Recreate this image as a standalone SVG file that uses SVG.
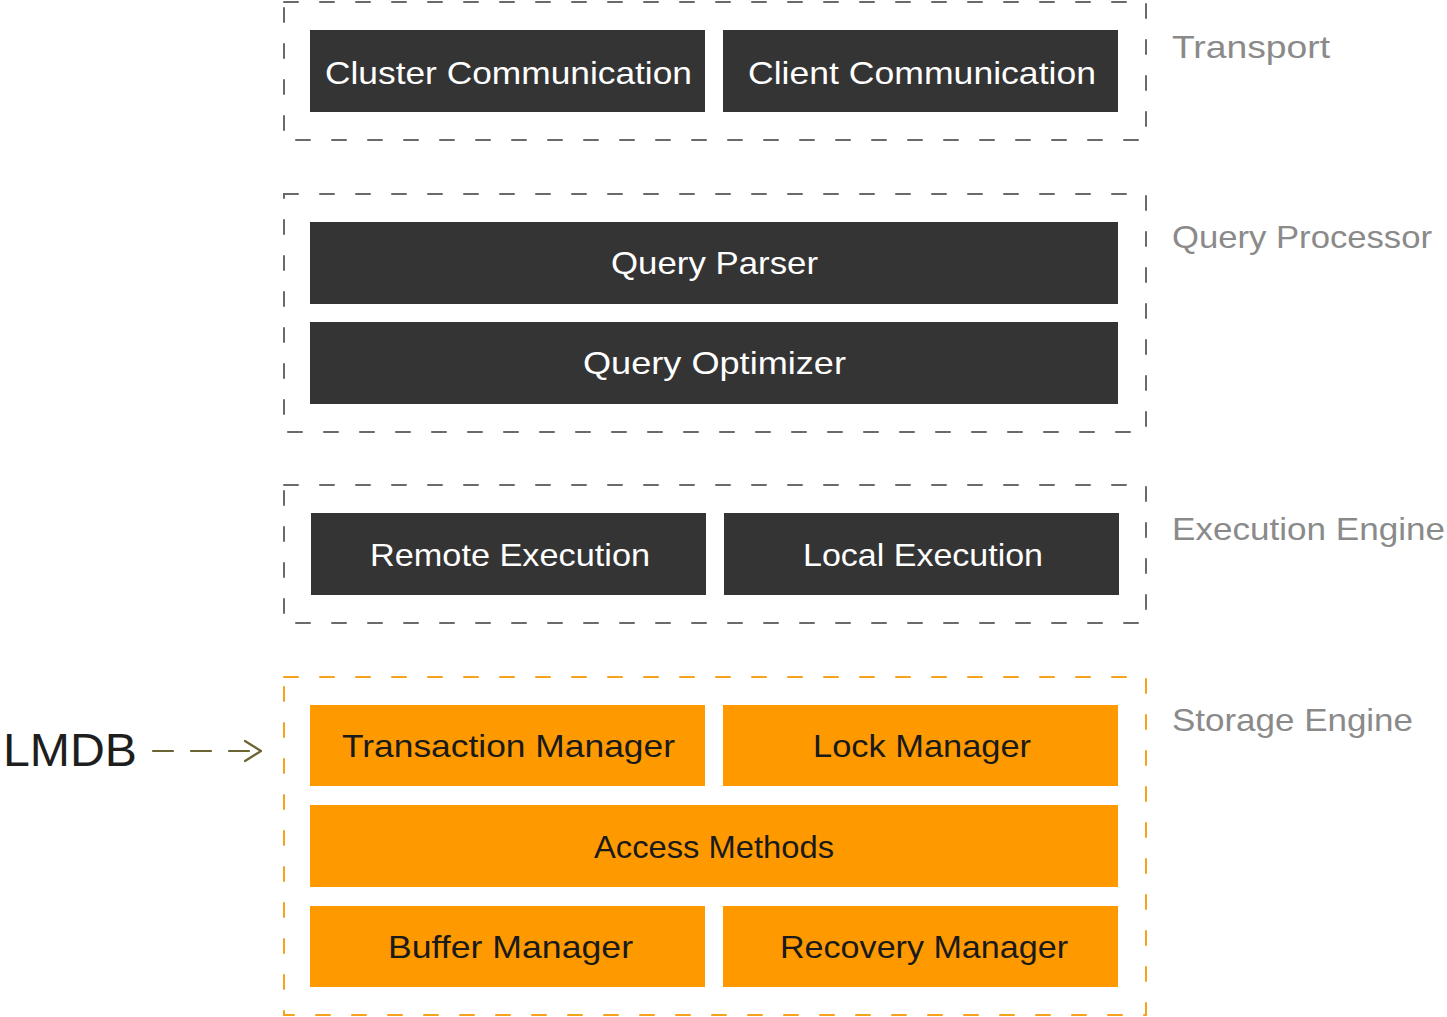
<svg xmlns="http://www.w3.org/2000/svg" width="1447" height="1017" viewBox="0 0 1447 1017">
<defs>
<style>
.grp{fill:none;stroke:#6a6a6a;stroke-width:2;stroke-dasharray:14 22;stroke-linecap:round}
.grp.o{stroke:#f7a21c}
.dk{fill:#343434}
.or{fill:#fe9900}
.t{font-family:"Liberation Sans","DejaVu Sans",sans-serif;font-size:32px;text-anchor:middle}
.tw{fill:#ffffff}
.tb{fill:#1a1a1a}
.lab{font-family:"Liberation Sans","DejaVu Sans",sans-serif;font-size:32px;fill:#8a8a8a}
</style>
<marker id="ah" viewBox="0 0 20 24" refX="18" refY="12" markerWidth="20" markerHeight="24" markerUnits="userSpaceOnUse" orient="auto">
<path d="M2 2 L18 12 L2 22" fill="none" stroke="#6b6433" stroke-width="2.2" stroke-linecap="round" stroke-linejoin="round"/>
</marker>
</defs>
<rect width="1447" height="1017" fill="#ffffff"/>

<g id="transport">
<rect class="grp" x="284" y="2" width="862" height="138"/>
<text class="lab" x="1172" y="58" textLength="158" lengthAdjust="spacingAndGlyphs">Transport</text>
</g>
<g id="cluster-communication">
<rect class="dk" x="310" y="30" width="395" height="82"/>
<text class="t tw" x="508.5" y="84" textLength="367" lengthAdjust="spacingAndGlyphs">Cluster Communication</text>
</g>
<g id="client-communication">
<rect class="dk" x="723" y="30" width="395" height="82"/>
<text class="t tw" x="922" y="84" textLength="348" lengthAdjust="spacingAndGlyphs">Client Communication</text>
</g>

<g id="query-processor">
<rect class="grp" x="284" y="194" width="862" height="238"/>
<text class="lab" x="1172" y="248" textLength="260" lengthAdjust="spacingAndGlyphs">Query Processor</text>
</g>
<g id="query-parser">
<rect class="dk" x="310" y="222" width="808" height="82"/>
<text class="t tw" x="714.5" y="274" textLength="207" lengthAdjust="spacingAndGlyphs">Query Parser</text>
</g>
<g id="query-optimizer">
<rect class="dk" x="310" y="322" width="808" height="82"/>
<text class="t tw" x="714.5" y="374" textLength="263" lengthAdjust="spacingAndGlyphs">Query Optimizer</text>
</g>

<g id="execution-engine">
<rect class="grp" x="284" y="485" width="862" height="138"/>
<text class="lab" x="1172" y="540" textLength="273" lengthAdjust="spacingAndGlyphs">Execution Engine</text>
</g>
<g id="remote-execution">
<rect class="dk" x="311" y="513" width="395" height="82"/>
<text class="t tw" x="510" y="566" textLength="280" lengthAdjust="spacingAndGlyphs">Remote Execution</text>
</g>
<g id="local-execution">
<rect class="dk" x="724" y="513" width="395" height="82"/>
<text class="t tw" x="923" y="566" textLength="240" lengthAdjust="spacingAndGlyphs">Local Execution</text>
</g>

<g id="storage-engine">
<rect class="grp o" x="284" y="677" width="862" height="338"/>
<text class="lab" x="1172" y="731" textLength="241" lengthAdjust="spacingAndGlyphs">Storage Engine</text>
</g>
<g id="transaction-manager">
<rect class="or" x="310" y="705" width="395" height="81"/>
<text class="t tb" x="508.5" y="757" textLength="333" lengthAdjust="spacingAndGlyphs">Transaction Manager</text>
</g>
<g id="lock-manager">
<rect class="or" x="723" y="705" width="395" height="81"/>
<text class="t tb" x="922" y="757" textLength="218" lengthAdjust="spacingAndGlyphs">Lock Manager</text>
</g>
<g id="access-methods">
<rect class="or" x="310" y="805" width="808" height="82"/>
<text class="t tb" x="714" y="858" textLength="240" lengthAdjust="spacingAndGlyphs">Access Methods</text>
</g>
<g id="buffer-manager">
<rect class="or" x="310" y="906" width="395" height="81"/>
<text class="t tb" x="510.5" y="958" textLength="245" lengthAdjust="spacingAndGlyphs">Buffer Manager</text>
</g>
<g id="recovery-manager">
<rect class="or" x="723" y="906" width="395" height="81"/>
<text class="t tb" x="924" y="958" textLength="288" lengthAdjust="spacingAndGlyphs">Recovery Manager</text>
</g>

<g id="lmdb">
<text x="3" y="766" font-family="Liberation Sans,'DejaVu Sans',sans-serif" font-size="46" fill="#1e1e1e" textLength="134" lengthAdjust="spacingAndGlyphs">LMDB</text>
</g>

<g id="connectors">
<path d="M153 751 L261 751" fill="none" stroke="#6b6433" stroke-width="2.2" stroke-dasharray="20 18" stroke-linecap="round" marker-end="url(#ah)"/>
</g>
</svg>
